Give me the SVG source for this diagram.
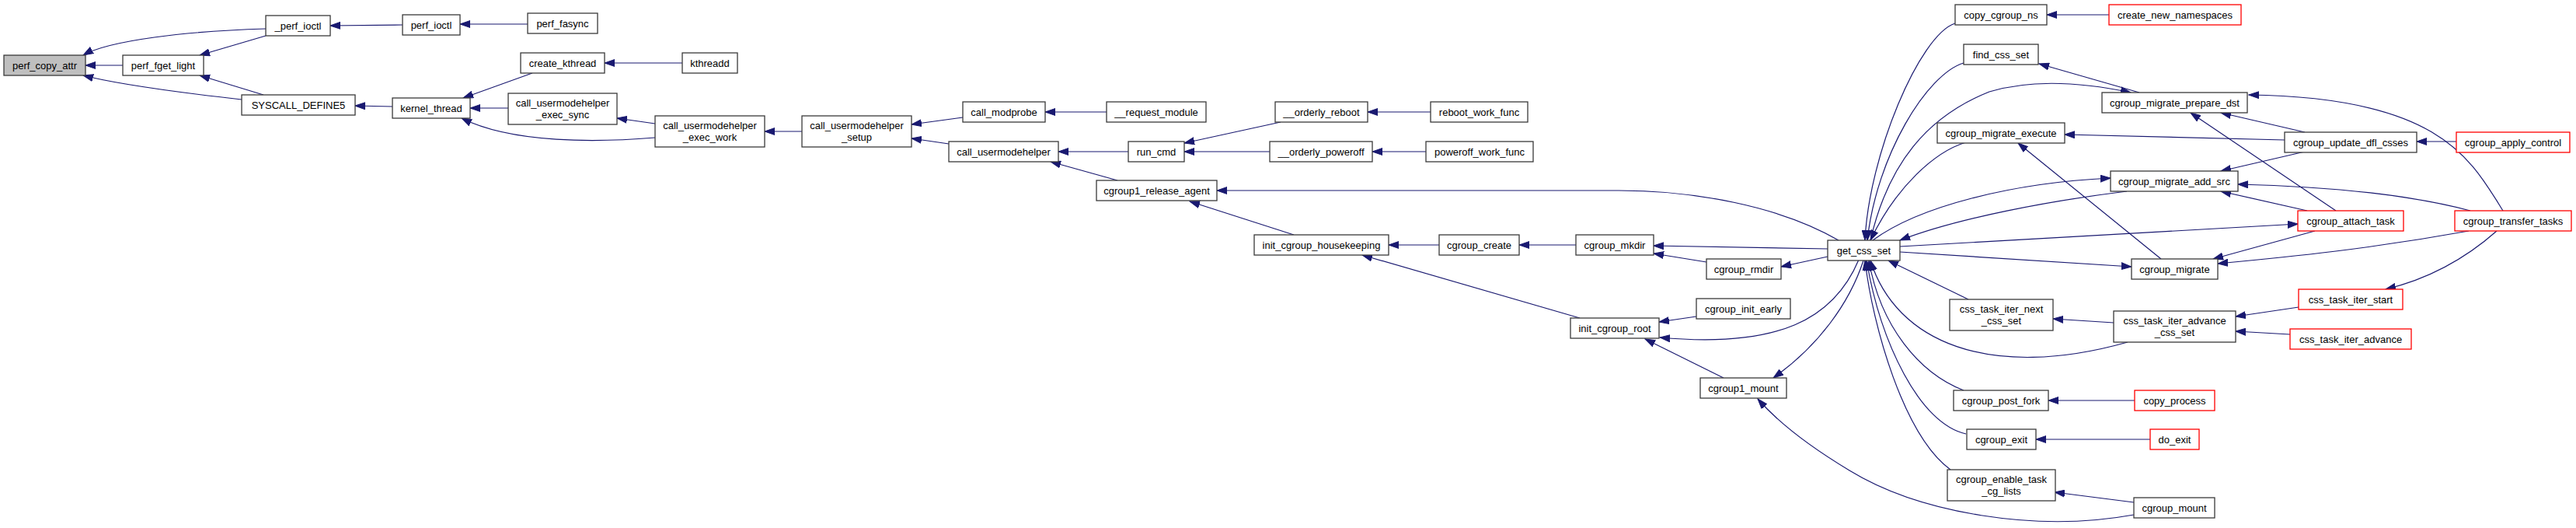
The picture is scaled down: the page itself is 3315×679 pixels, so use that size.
<svg xmlns="http://www.w3.org/2000/svg" width="3315" height="679" viewBox="0 0 3315 679">
<style>
.n rect{fill:#ffffff;stroke:#3a3a3a;stroke-width:1.3}
.r rect{fill:#ffffff;stroke:#ff0000;stroke-width:1.3}
.root rect{fill:#bfbfbf;stroke:#3a3a3a;stroke-width:1.3}
text{font-family:"Liberation Sans",Arial,sans-serif;font-size:13px;fill:#000000;text-anchor:middle}
#edges path{fill:none;stroke:#191970;stroke-width:1.2;marker-end:url(#ah)}
</style>
<defs>
<marker id="ah" markerUnits="userSpaceOnUse" markerWidth="14" markerHeight="10" refX="13" refY="5" orient="auto">
<path d="M0,0.5 L13,5 L0,9.5 z" fill="#191970" stroke="#191970" stroke-width="1"/>
</marker>
</defs>
<rect x="0" y="0" width="3315" height="679" fill="#ffffff"/>
<g id="edges">
<path d="M342,37 C 240,40 140,52 107,71"/>
<path d="M158,84 L110,84"/>
<path d="M311,128 C 240,120 150,108 107,97"/>
<path d="M342,46 L257,71"/>
<path d="M339,122 L257,97"/>
<path d="M518,32 L425,33"/>
<path d="M679,31 L592,31"/>
<path d="M505,137 L457,136"/>
<path d="M685,94 L596,126"/>
<path d="M654,139 L605,139"/>
<path d="M843,177 C 770,183 660,185 594,152"/>
<path d="M878,81 L778,81"/>
<path d="M843,159 L794,152"/>
<path d="M1032,169 L984,169"/>
<path d="M1239,151 L1173,160"/>
<path d="M1221,185 L1173,178"/>
<path d="M1424,144 L1345,144"/>
<path d="M1452,195 L1362,195"/>
<path d="M1438,232 L1352,208"/>
<path d="M1648,157 L1524,184"/>
<path d="M1634,195 L1524,195"/>
<path d="M2366,309 C 2290,265 2180,245 2083,245 L1566,245"/>
<path d="M1665,302 L1531,259"/>
<path d="M1841,144 L1760,144"/>
<path d="M1835,195 L1766,195"/>
<path d="M1852,315 L1787,315"/>
<path d="M2028,315 L1955,315"/>
<path d="M2352,320 L2128,316"/>
<path d="M2196,337 L2128,326"/>
<path d="M2352,330 L2292,343"/>
<path d="M2033,409 L1753,328"/>
<path d="M2183,407 L2135,414"/>
<path d="M2392,334 C 2360,410 2290,448 2136,434"/>
<path d="M2218,486 L2117,436"/>
<path d="M2398,335 C 2380,390 2340,445 2282,486"/>
<path d="M2746,662 C 2620,685 2470,660 2380,605 C 2330,575 2290,545 2262,513"/>
<path d="M2516,30 C 2470,45 2405,200 2400,309"/>
<path d="M2527,81 C 2480,95 2415,200 2403,309"/>
<path d="M2407,309 C 2430,210 2480,150 2560,118 C 2620,100 2690,108 2742,119"/>
<path d="M2530,183 C 2490,195 2440,240 2407,309"/>
<path d="M2410,309 C 2470,265 2590,235 2716,229"/>
<path d="M2737,246 C 2640,258 2520,280 2445,309"/>
<path d="M2445,317 L2957,288"/>
<path d="M2445,324 L2743,343"/>
<path d="M2781,333 L2597,184"/>
<path d="M2533,385 L2430,335"/>
<path d="M2738,440 C 2560,490 2440,440 2407,335"/>
<path d="M2527,502 C 2470,480 2420,420 2405,335"/>
<path d="M2530,558 C 2470,545 2420,440 2402,335"/>
<path d="M2510,604 C 2450,560 2410,420 2400,335"/>
<path d="M2753,119 L2624,82"/>
<path d="M2966,170 L2858,145"/>
<path d="M3006,271 L2819,145"/>
<path d="M3221,271 C 3180,205 3140,125 2894,122"/>
<path d="M2940,180 L2657,173"/>
<path d="M3161,182 L3110,182"/>
<path d="M2966,195 L2858,220"/>
<path d="M2969,271 L2858,246"/>
<path d="M3179,271 C 3100,250 3000,240 2880,237"/>
<path d="M2979,297 L2848,333"/>
<path d="M3177,297 C 3050,320 2950,330 2854,339"/>
<path d="M3213,297 C 3170,335 3120,360 3070,372"/>
<path d="M2958,395 L2877,407"/>
<path d="M2947,430 L2877,426"/>
<path d="M2720,415 L2642,410"/>
<path d="M2747,515 L2636,515"/>
<path d="M2767,565 L2620,565"/>
<path d="M2746,646 L2644,633"/>
<path d="M2714,19 L2634,19"/>
</g>
<g id="perf_copy_attr" class="root"><rect x="5" y="71" width="105" height="26"/><text x="57.5" y="88.5">perf_copy_attr</text></g>
<g id="perf_fget_light" class="n"><rect x="158" y="71" width="104" height="26"/><text x="210" y="88.5">perf_fget_light</text></g>
<g id="_perf_ioctl" class="n"><rect x="342" y="20" width="83" height="26"/><text x="383.5" y="37.5">_perf_ioctl</text></g>
<g id="perf_ioctl" class="n"><rect x="518" y="19" width="74" height="26"/><text x="555" y="36.5">perf_ioctl</text></g>
<g id="perf_fasync" class="n"><rect x="679" y="17" width="90" height="26"/><text x="724" y="34.5">perf_fasync</text></g>
<g id="SYSCALL_DEFINE5" class="n"><rect x="311" y="122" width="146" height="26"/><text x="384" y="139.5">SYSCALL_DEFINE5</text></g>
<g id="kernel_thread" class="n"><rect x="505" y="126" width="100" height="26"/><text x="555" y="143.5">kernel_thread</text></g>
<g id="create_kthread" class="n"><rect x="670" y="68" width="108" height="26"/><text x="724" y="85.5">create_kthread</text></g>
<g id="call_usermodehelper_exec_sync" class="n"><rect x="654" y="120" width="140" height="40"/><text x="724" y="136.5">call_usermodehelper</text><text x="724" y="151.5">_exec_sync</text></g>
<g id="kthreadd" class="n"><rect x="878" y="68" width="71" height="26"/><text x="913.5" y="85.5">kthreadd</text></g>
<g id="call_usermodehelper_exec_work" class="n"><rect x="843" y="149" width="141" height="40"/><text x="913.5" y="165.5">call_usermodehelper</text><text x="913.5" y="180.5">_exec_work</text></g>
<g id="call_usermodehelper_setup" class="n"><rect x="1032" y="149" width="141" height="40"/><text x="1102.5" y="165.5">call_usermodehelper</text><text x="1102.5" y="180.5">_setup</text></g>
<g id="call_modprobe" class="n"><rect x="1239" y="131" width="106" height="26"/><text x="1292" y="148.5">call_modprobe</text></g>
<g id="__request_module" class="n"><rect x="1424" y="131" width="128" height="26"/><text x="1488" y="148.5">__request_module</text></g>
<g id="call_usermodehelper" class="n"><rect x="1221" y="182" width="141" height="26"/><text x="1291.5" y="199.5">call_usermodehelper</text></g>
<g id="run_cmd" class="n"><rect x="1452" y="182" width="72" height="26"/><text x="1488" y="199.5">run_cmd</text></g>
<g id="cgroup1_release_agent" class="n"><rect x="1411" y="232" width="155" height="26"/><text x="1488.5" y="249.5">cgroup1_release_agent</text></g>
<g id="__orderly_reboot" class="n"><rect x="1641" y="131" width="119" height="26"/><text x="1700.5" y="148.5">__orderly_reboot</text></g>
<g id="__orderly_poweroff" class="n"><rect x="1634" y="182" width="132" height="26"/><text x="1700" y="199.5">__orderly_poweroff</text></g>
<g id="init_cgroup_housekeeping" class="n"><rect x="1614" y="302" width="173" height="26"/><text x="1700.5" y="319.5">init_cgroup_housekeeping</text></g>
<g id="reboot_work_func" class="n"><rect x="1841" y="131" width="125" height="26"/><text x="1903.5" y="148.5">reboot_work_func</text></g>
<g id="poweroff_work_func" class="n"><rect x="1835" y="182" width="138" height="26"/><text x="1904" y="199.5">poweroff_work_func</text></g>
<g id="cgroup_create" class="n"><rect x="1852" y="302" width="103" height="26"/><text x="1903.5" y="319.5">cgroup_create</text></g>
<g id="cgroup_mkdir" class="n"><rect x="2028" y="302" width="100" height="26"/><text x="2078" y="319.5">cgroup_mkdir</text></g>
<g id="get_css_set" class="n"><rect x="2352" y="309" width="93" height="26"/><text x="2398.5" y="326.5">get_css_set</text></g>
<g id="cgroup_rmdir" class="n"><rect x="2196" y="333" width="96" height="26"/><text x="2244" y="350.5">cgroup_rmdir</text></g>
<g id="cgroup_init_early" class="n"><rect x="2183" y="384" width="121" height="26"/><text x="2243.5" y="401.5">cgroup_init_early</text></g>
<g id="init_cgroup_root" class="n"><rect x="2021" y="409" width="114" height="26"/><text x="2078" y="426.5">init_cgroup_root</text></g>
<g id="cgroup1_mount" class="n"><rect x="2188" y="486" width="111" height="26"/><text x="2243.5" y="503.5">cgroup1_mount</text></g>
<g id="copy_cgroup_ns" class="n"><rect x="2516" y="6" width="118" height="26"/><text x="2575" y="23.5">copy_cgroup_ns</text></g>
<g id="create_new_namespaces" class="r"><rect x="2714" y="6" width="170" height="26"/><text x="2799" y="23.5">create_new_namespaces</text></g>
<g id="find_css_set" class="n"><rect x="2527" y="57" width="96" height="26"/><text x="2575" y="74.5">find_css_set</text></g>
<g id="cgroup_migrate_prepare_dst" class="n"><rect x="2705" y="119" width="187" height="26"/><text x="2798.5" y="136.5">cgroup_migrate_prepare_dst</text></g>
<g id="cgroup_migrate_execute" class="n"><rect x="2493" y="158" width="164" height="26"/><text x="2575" y="175.5">cgroup_migrate_execute</text></g>
<g id="cgroup_update_dfl_csses" class="n"><rect x="2940" y="170" width="170" height="26"/><text x="3025" y="187.5">cgroup_update_dfl_csses</text></g>
<g id="cgroup_apply_control" class="r"><rect x="3161" y="170" width="146" height="26"/><text x="3234" y="187.5">cgroup_apply_control</text></g>
<g id="cgroup_migrate_add_src" class="n"><rect x="2716" y="220" width="164" height="26"/><text x="2798" y="237.5">cgroup_migrate_add_src</text></g>
<g id="cgroup_attach_task" class="r"><rect x="2957" y="271" width="136" height="26"/><text x="3025" y="288.5">cgroup_attach_task</text></g>
<g id="cgroup_transfer_tasks" class="r"><rect x="3159" y="271" width="150" height="26"/><text x="3234" y="288.5">cgroup_transfer_tasks</text></g>
<g id="cgroup_migrate" class="n"><rect x="2743" y="333" width="111" height="26"/><text x="2798.5" y="350.5">cgroup_migrate</text></g>
<g id="css_task_iter_start" class="r"><rect x="2958" y="372" width="134" height="26"/><text x="3025" y="389.5">css_task_iter_start</text></g>
<g id="css_task_iter_next_css_set" class="n"><rect x="2509" y="385" width="133" height="40"/><text x="2575.5" y="401.5">css_task_iter_next</text><text x="2575.5" y="416.5">_css_set</text></g>
<g id="css_task_iter_advance_css_set" class="n"><rect x="2720" y="400" width="157" height="40"/><text x="2798.5" y="416.5">css_task_iter_advance</text><text x="2798.5" y="431.5">_css_set</text></g>
<g id="css_task_iter_advance" class="r"><rect x="2947" y="423" width="156" height="26"/><text x="3025" y="440.5">css_task_iter_advance</text></g>
<g id="cgroup_post_fork" class="n"><rect x="2514" y="502" width="122" height="26"/><text x="2575" y="519.5">cgroup_post_fork</text></g>
<g id="copy_process" class="r"><rect x="2747" y="502" width="103" height="26"/><text x="2798.5" y="519.5">copy_process</text></g>
<g id="cgroup_exit" class="n"><rect x="2531" y="552" width="89" height="26"/><text x="2575.5" y="569.5">cgroup_exit</text></g>
<g id="do_exit" class="r"><rect x="2767" y="552" width="63" height="26"/><text x="2798.5" y="569.5">do_exit</text></g>
<g id="cgroup_enable_task_cg_lists" class="n"><rect x="2506" y="604" width="139" height="40"/><text x="2575.5" y="620.5">cgroup_enable_task</text><text x="2575.5" y="635.5">_cg_lists</text></g>
<g id="cgroup_mount" class="n"><rect x="2746" y="640" width="104" height="26"/><text x="2798" y="657.5">cgroup_mount</text></g>
</svg>
